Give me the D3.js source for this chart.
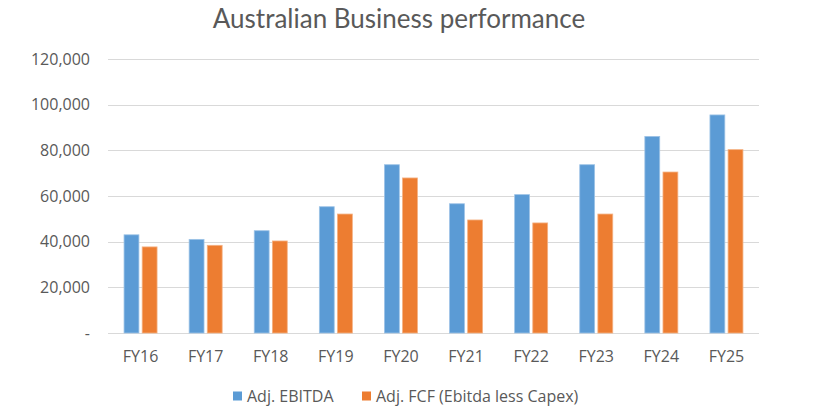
<!DOCTYPE html>
<html lang="en">
<head>
    <meta charset="UTF-8">
    <title>Australian Business performance</title>
    <script src="https://d3js.org/d3.v7.min.js"></script>
    <style>
        body { margin: 0; background: white; }
        svg { display: block; }
    </style>
</head>
<body>
    <svg id="chart"></svg>
    <script>
        const years = ['FY16', 'FY17', 'FY18', 'FY19', 'FY20', 'FY21', 'FY22', 'FY23', 'FY24', 'FY25'];
        const ebitda = [43000, 41000, 44800, 55300, 73700, 56600, 60600, 73700, 86100, 95500];
        const fcf = [37700, 38400, 40300, 52100, 67900, 49500, 48200, 52100, 70500, 80300];
        const seriesNames = ['Adj. EBITDA', 'Adj. FCF (Ebitda less Capex)'];
        const yTicks = [0, 20000, 40000, 60000, 80000, 100000, 120000];

        const width = 813, height = 416;
        const margin = { top: 59, right: 54, bottom: 83, left: 108 };
        const colors = ['#5b9bd5', '#ed7d31'];
        const strokes = ['#9dc3e6', '#f4b183'];
        const font = '"Open Sans", "Noto Sans", sans-serif';

        const svg = d3.select('#chart')
            .attr('width', width)
            .attr('height', height);

        const x = d3.scaleBand()
            .domain(years)
            .range([margin.left, width - margin.right]);

        const x1 = d3.scaleBand()
            .domain([0, 1])
            .range([x.bandwidth() / 2 - 16.5, x.bandwidth() / 2 + 16.5])
            .paddingInner(0.18);

        const y = d3.scaleLinear()
            .domain([0, 120000])
            .range([height - margin.bottom, margin.top]);

        // gridlines
        svg.append('g')
            .selectAll('line')
            .data(yTicks)
            .join('line')
            .attr('x1', margin.left)
            .attr('x2', width - margin.right)
            .attr('y1', d => Math.round(y(d)) + 0.5)
            .attr('y2', d => Math.round(y(d)) + 0.5)
            .attr('stroke', '#d9d9d9')
            .attr('stroke-width', 1);

        // y labels
        const fmt = d3.format(',');
        svg.append('g')
            .selectAll('text')
            .data(yTicks)
            .join('text')
            .attr('x', 90)
            .attr('y', d => y(d))
            .attr('dy', '0.35em')
            .attr('text-anchor', 'end')
            .attr('font-family', font)
            .attr('font-size', '16px')
            .attr('fill', '#595959')
            .text(d => d === 0 ? '-' : fmt(d));

        // bars
        const groups = svg.append('g')
            .selectAll('g')
            .data(years)
            .join('g')
            .attr('transform', d => `translate(${x(d)},0)`);

        groups.selectAll('rect')
            .data((d, i) => [ebitda[i], fcf[i]])
            .join('rect')
            .attr('x', (d, j) => x1(j))
            .attr('width', x1.bandwidth())
            .attr('y', d => y(d))
            .attr('height', d => y(0) - y(d))
            .attr('fill', (d, j) => colors[j])
            .attr('stroke', (d, j) => strokes[j])
            .attr('stroke-width', 0.8);

        // x labels
        svg.append('g')
            .selectAll('text')
            .data(years)
            .join('text')
            .attr('x', d => x(d) + x.bandwidth() / 2)
            .attr('y', 356)
            .attr('dy', '0.35em')
            .attr('text-anchor', 'middle')
            .attr('font-family', font)
            .attr('font-size', '16px')
            .attr('fill', '#595959')
            .text(d => d);

        // title
        svg.append('text')
            .attr('x', 399)
            .attr('y', 19)
            .attr('dy', '0.35em')
            .attr('text-anchor', 'middle')
            .attr('font-family', 'Lato, "Open Sans", sans-serif')
            .attr('font-size', '26px')
            .attr('fill', '#595959')
            .text('Australian Business performance');

        // legend
        const legendX = [233, 362];
        const legend = svg.append('g')
            .selectAll('g')
            .data(seriesNames)
            .join('g')
            .attr('transform', (d, i) => `translate(${legendX[i]},396)`);

        legend.append('rect')
            .attr('x', 0)
            .attr('y', -4.5)
            .attr('width', 9)
            .attr('height', 9)
            .attr('fill', (d, i) => colors[i]);

        legend.append('text')
            .attr('x', 14)
            .attr('y', 0)
            .attr('dy', '0.35em')
            .attr('font-family', font)
            .attr('font-size', '16px')
            .attr('fill', '#595959')
            .text(d => d);
    </script>
</body>
</html>
